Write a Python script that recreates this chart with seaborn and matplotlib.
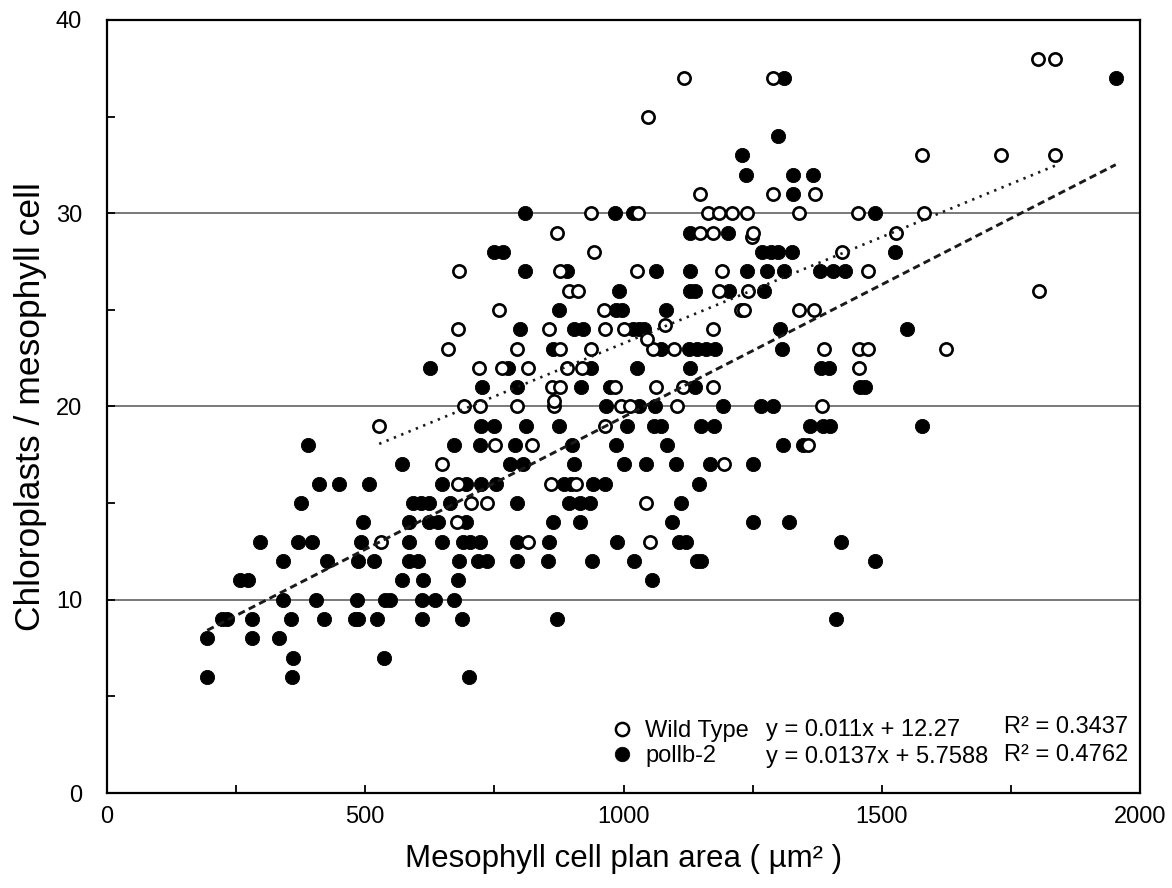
import numpy as np
import pandas as pd
import matplotlib
matplotlib.use("Agg")
import matplotlib.pyplot as plt
import seaborn as sns
from matplotlib.lines import Line2D
from matplotlib.ticker import MultipleLocator

sns.set_theme(style="white")
plt.rcParams["font.family"] = ["Liberation Sans", "DejaVu Sans"]
plt.rcParams["text.color"] = "black"
plt.rcParams["axes.labelcolor"] = "black"
plt.rcParams["xtick.color"] = "black"
plt.rcParams["ytick.color"] = "black"

# ---------------- data ----------------
wt_x = [530, 815, 1052,
        678,
        705, 736, 1044,
        680, 860, 909,
        648, 1195,
        751, 823, 1358,
        527, 965,
        691, 722, 793, 865, 996, 1012, 1103, 1384,
        865,
        861, 877, 984, 1062, 1116, 1174,
        721, 765, 816, 891, 919, 1455,
        661, 794, 877, 938, 1058, 1097, 1389, 1455, 1474, 1625,
        1045,
        679, 855, 965, 1000, 1174,
        1080,
        759, 962, 1227, 1233, 1339, 1369,
        894, 912, 1185, 1242, 1804,
        682, 878, 1027, 1190, 1474,
        942, 1424,
        1248,
        872, 1148, 1174, 1251, 1527,
        937, 1029, 1163, 1185, 1210, 1239, 1340, 1454, 1582,
        1148, 1289, 1370,
        1578, 1730, 1836,
        1048,
        1118, 1289,
        1803, 1836]
wt_y = [13, 13, 13,
        14,
        15, 15, 15,
        16, 16, 16,
        17, 17,
        18, 18, 18,
        19, 19,
        20, 20, 20, 20, 20, 20, 20, 20,
        20.3,
        21, 21, 21, 21, 21, 21,
        22, 22, 22, 22, 22, 22,
        23, 23, 23, 23, 23, 23, 23, 23, 23, 23,
        23.5,
        24, 24, 24, 24, 24,
        24.2,
        25, 25, 25, 25, 25, 25,
        26, 26, 26, 26, 26,
        27, 27, 27, 27, 27,
        28, 28,
        28.75,
        29, 29, 29, 29, 29,
        30, 30, 30, 30, 30, 30, 30, 30, 30,
        31, 31, 31,
        33, 33, 33,
        35,
        37, 37,
        38, 38]

pb_x = [194, 358, 700,
        360, 536,
        194, 281, 333,
        222, 232, 281, 356, 420, 480, 486, 523, 609, 687, 872, 1411,
        341, 405, 484, 538, 547, 609, 636, 672,
        257, 273, 572, 612, 679, 1055,
        341, 426, 486, 517, 585, 603, 682, 718, 735, 793, 853, 939, 1020, 1142, 1150, 1486,
        296, 370, 397, 492, 585, 649, 690, 703, 722, 793, 856, 987, 1107, 1121, 1422,
        495, 585, 624, 640, 695, 863, 916, 1093, 1251, 1321,
        376, 593, 608, 624, 664, 793, 895, 916, 935, 1112,
        411, 450, 507, 648, 696, 724, 754, 885, 898, 940, 964, 1146,
        572, 780, 806, 905, 1000, 1044, 1101, 1168, 1250,
        389, 672, 723, 790, 901, 986, 1085, 1308, 1347,
        724, 750, 811, 876, 1006, 1060, 1072, 1150, 1175, 1362, 1386, 1399, 1577,
        967, 1030, 1061, 1193, 1266, 1289,
        726, 793, 918, 974, 1138, 1458, 1468,
        625, 777, 938, 1027, 1129, 1382, 1397,
        864, 1073, 1126, 1142, 1160, 1177, 1306,
        800, 904, 921, 1018, 1030, 1040, 1303, 1549,
        876, 986, 998, 1082,
        991, 1129, 1138, 1204, 1272,
        810, 890, 1062, 1129, 1239, 1277, 1310, 1381, 1405, 1429,
        750, 766, 1269, 1286, 1300, 1326, 1526,
        1129, 1203,
        810, 983, 1019, 1487,
        1328,
        1237, 1328, 1366,
        1229,
        1300,
        1311, 1953]
pb_y = [6, 6, 6,
        7, 7,
        8, 8, 8,
        9, 9, 9, 9, 9, 9, 9, 9, 9, 9, 9, 9,
        10, 10, 10, 10, 10, 10, 10, 10,
        11, 11, 11, 11, 11, 11,
        12, 12, 12, 12, 12, 12, 12, 12, 12, 12, 12, 12, 12, 12, 12, 12,
        13, 13, 13, 13, 13, 13, 13, 13, 13, 13, 13, 13, 13, 13, 13,
        14, 14, 14, 14, 14, 14, 14, 14, 14, 14,
        15, 15, 15, 15, 15, 15, 15, 15, 15, 15,
        16, 16, 16, 16, 16, 16, 16, 16, 16, 16, 16, 16,
        17, 17, 17, 17, 17, 17, 17, 17, 17,
        18, 18, 18, 18, 18, 18, 18, 18, 18,
        19, 19, 19, 19, 19, 19, 19, 19, 19, 19, 19, 19, 19,
        20, 20, 20, 20, 20, 20,
        21, 21, 21, 21, 21, 21, 21,
        22, 22, 22, 22, 22, 22, 22,
        23, 23, 23, 23, 23, 23, 23,
        24, 24, 24, 24, 24, 24, 24, 24,
        25, 25, 25, 25,
        26, 26, 26, 26, 26,
        27, 27, 27, 27, 27, 27, 27, 27, 27, 27,
        28, 28, 28, 28, 28, 28, 28,
        29, 29,
        30, 30, 30, 30,
        31,
        32, 32, 32,
        33,
        34,
        37, 37]

series_names = ["Wild Type", "pollb-2"]
slopes = [0.011, 0.0137]
intercepts = [12.27, 5.7588]
equations = ["y = 0.011x + 12.27", "y = 0.0137x + 5.7588"]
r2_labels = ["R\u00b2 = 0.3437", "R\u00b2 = 0.4762"]

n = min(len(wt_x), len(wt_y))
wt = pd.DataFrame({"x": wt_x[:n], "y": wt_y[:n]})
m = min(len(pb_x), len(pb_y))
pb = pd.DataFrame({"x": pb_x[:m], "y": pb_y[:m]})

# ---------------- figure ----------------
W, H = 1172, 888
fig = plt.figure(figsize=(W / 100, H / 100), dpi=100)
L, R, T, B = 107, 1140, 20, 793
ax = fig.add_axes([L / W, 1 - B / H, (R - L) / W, (B - T) / H])
ax.set_facecolor("white")

sns.scatterplot(data=pb, x="x", y="y", ax=ax, s=105, color="black",
                edgecolor="black", linewidth=0.6, zorder=3, legend=False)
sns.scatterplot(data=wt, x="x", y="y", ax=ax, s=78, facecolor="white",
                edgecolor="black", linewidth=1.9, zorder=4, legend=False)

# trend lines from the printed equations, across each series' x range
xw = np.array([wt["x"].min(), wt["x"].max()])
ax.plot(xw, slopes[0] * xw + intercepts[0], color="#1a1a1a", lw=1.9,
        ls=(0, (0.9, 2.1)), zorder=5)
xp = np.array([pb["x"].min(), pb["x"].max()])
ax.plot(xp, slopes[1] * xp + intercepts[1], color="#1a1a1a", lw=2.1,
        ls=(0, (2.5, 1.5)), zorder=5)

ax.set_xlim(0, 2000)
ax.set_ylim(0, 40)
ax.xaxis.set_major_locator(MultipleLocator(500))
ax.xaxis.set_minor_locator(MultipleLocator(250))
ax.yaxis.set_major_locator(MultipleLocator(10))
ax.yaxis.set_minor_locator(MultipleLocator(5))
ax.tick_params(which="both", direction="in", length=6, width=1.3,
               color="black", top=False, right=False, bottom=True, left=True)
ax.tick_params(axis="x", which="major", labelsize=17, pad=9)
ax.tick_params(axis="y", which="major", labelsize=17, pad=18)
ax.grid(axis="y", which="major", color="#6e6e6e", lw=1.3)
ax.grid(axis="x", visible=False)
ax.set_axisbelow(True)
for sp in ax.spines.values():
    sp.set_visible(True)
    sp.set_color("black")
    sp.set_linewidth(1.6)

ax.set_xlabel("Mesophyll cell plan area ( \u00b5m\u00b2 )", fontsize=22.5,
              labelpad=12)
ax.set_ylabel("Chloroplasts / mesophyll cell", fontsize=25.5, labelpad=6)

# legend + equations
handles = [Line2D([], [], marker="o", ls="", mfc="white", mec="black", mew=1.8, ms=9.5),
           Line2D([], [], marker="o", ls="", mfc="black", mec="black", mew=0.5, ms=10.5)]
leg = ax.legend(handles, series_names, loc="center left",
                bbox_to_anchor=(0.487, 0.064), frameon=False, fontsize=17,
                borderpad=0, handlelength=1.0, handletextpad=0.5,
                labelspacing=0.12, borderaxespad=0)
leg.set_zorder(6)
ax.text(0.6383, 0.0815, equations[0], transform=ax.transAxes, fontsize=17,
        va="center", ha="left", zorder=6)
ax.text(0.6383, 0.0466, equations[1], transform=ax.transAxes, fontsize=17,
        va="center", ha="left", zorder=6)
ax.text(0.9884, 0.0854, r2_labels[0], transform=ax.transAxes, fontsize=17,
        va="center", ha="right", zorder=6)
ax.text(0.9884, 0.0490, r2_labels[1], transform=ax.transAxes, fontsize=17,
        va="center", ha="right", zorder=6)

fig.savefig("out.png", dpi=100, facecolor="white")
